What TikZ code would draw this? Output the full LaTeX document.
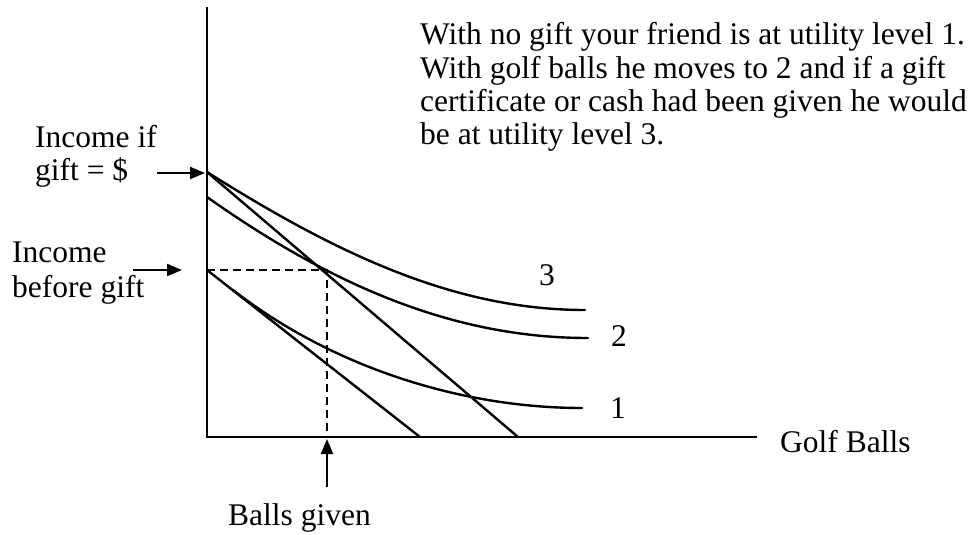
\documentclass[tikz,border=0pt]{standalone}
\usepackage{fontspec}
\setmainfont{Liberation Serif}
\usetikzlibrary{arrows.meta}
\begin{document}
\begin{tikzpicture}[x=1pt,y=-1pt,
  lbl/.style={anchor=base west, inner sep=0pt, font=\fontsize{31.5}{33}\selectfont},
  num/.style={anchor=center, inner sep=0pt, font=\fontsize{31.5}{33}\selectfont},
  curve/.style={line width=2.4pt, line cap=round},
  axis/.style={line width=2.6pt},
  ptr/.style={line width=2pt, -{Triangle[length=15pt,width=12pt]}},
  guide/.style={line width=2pt, dash pattern=on 8pt off 5pt}]
\useasboundingbox (0,0) rectangle (975,535);

% axes
\coordinate (ytop) at (207,7);
\coordinate (O) at (207,437);
\coordinate (xend) at (757,437);
\draw[axis] (ytop) -- (O) -- (xend);

% budget lines
\coordinate (Bhi) at (207,172);
\coordinate (Bhix) at (518,437);
\coordinate (Blo) at (207,270);
\coordinate (Blox) at (420,437);
\draw[curve] (Bhi) -- (Bhix);
\draw[curve] (Blo) -- (Blox);

% dashed guides
\coordinate (E) at (327,270);
\coordinate (Ex) at (327,437);
\draw[guide] (Blo) -- (E) -- (Ex);

% indifference curves
\coordinate (c3s) at (207,172);
\coordinate (c3e) at (585,310);
\coordinate (c2s) at (207,197);
\coordinate (c2e) at (588,338);
\coordinate (c1s) at (233,290);
\coordinate (c1e) at (582,408);
\draw[curve] (c3s) .. controls (337,254) and (455,310) .. (c3e);
\draw[curve] (c2s) .. controls (337,289) and (458,338) .. (c2e);
\draw[curve] (c1s) .. controls (333,367.7) and (462,408) .. (c1e);

\node[num] (n3) at (547,275) {3};
\node[num] (n2) at (619,336) {2};
\node[num] (n1) at (618,408) {1};

% text
\node[lbl] (t1) at (420,45) {With no gift your friend is at utility level 1.};
\node[lbl] (t2) at (420,78) {With golf balls he moves to 2 and if a gift};
\node[lbl] (t3) at (420,111) {certificate or cash had been given he would};
\node[lbl] (t4) at (420,144) {be at utility level 3.};

\node[lbl] (inc1) at (35,147) {Income if};
\node[lbl] (inc2) at (35,180) {gift = \$};
\node[lbl] (bef1) at (12,262) {Income};
\node[lbl] (bef2) at (12,297) {before gift};
\node[lbl] (gb) at (780,452) {Golf Balls};
\node[lbl] (bg) at (228,525) {Balls given};

% pointers
\coordinate (a1) at (157,173);
\coordinate (a1t) at (205,173);
\coordinate (a2) at (133,270);
\coordinate (a2t) at (182,270);
\coordinate (a3) at (327,487);
\coordinate (a3t) at (327,439);
\draw[ptr] (a1) -- (a1t);
\draw[ptr] (a2) -- (a2t);
\draw[ptr] (a3) -- (a3t);
\end{tikzpicture}
\end{document}
